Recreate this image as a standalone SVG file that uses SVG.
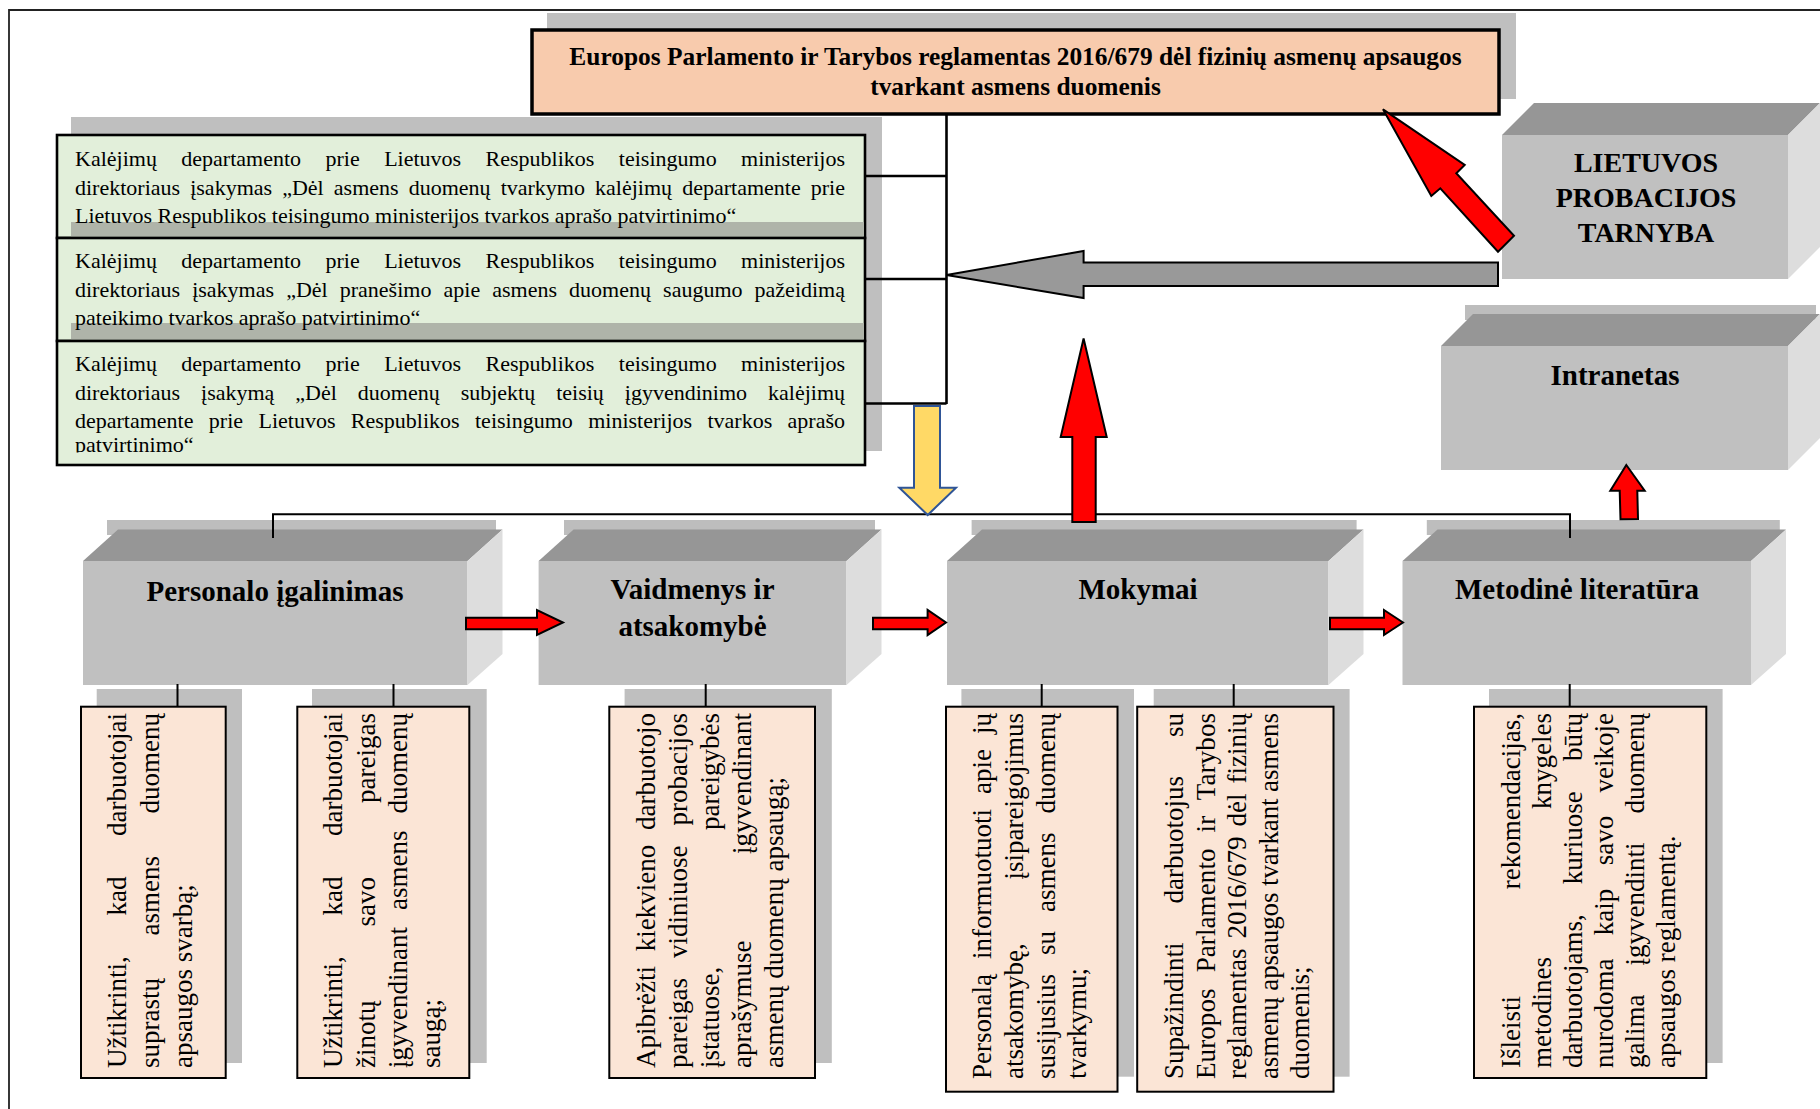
<svg xmlns="http://www.w3.org/2000/svg" width="1820" height="1109" viewBox="0 0 1820 1109">
<defs>
<style>
.bg{fill:#ffffff}
.frame{fill:none;stroke:#222;stroke-width:1.8}
.shadow{fill:#BFBFBF}
.peach{fill:#F8CBAD;stroke:#000;stroke-width:3.5}
.green{fill:#E2EFDA;stroke:#000;stroke-width:2.6}
.strip{fill:#AFB4A9}
.note{fill:#FBE5D6;stroke:#000;stroke-width:2}
.front{fill:#C0C0C0}
.top{fill:#969696}
.side{fill:#DDDDDD}
.sstrip{fill:#BDBDBD}
.h{font-family:"Liberation Serif","Times New Roman",serif;font-weight:bold;fill:#000;text-anchor:middle}
.gt{font-family:"Liberation Serif","Times New Roman",serif;font-size:22px;fill:#000}
.vt{font-family:"Liberation Serif","Times New Roman",serif;font-size:27px;fill:#000}
.ln{fill:none;stroke:#000;stroke-width:2}
.red{fill:#FF0000;stroke:#000;stroke-width:2;stroke-linejoin:miter}
.grayarrow{fill:#999999;stroke:#000;stroke-width:2}
.yellow{fill:#FFD966;stroke:#2F5597;stroke-width:2}
</style>
<clipPath id="clip3"><rect x="57" y="341" width="808" height="111.5"/></clipPath>
</defs>
<rect class="bg" x="0" y="0" width="1820" height="1109"/>
<path class="frame" d="M9,1109 V10 H1820"/>

<g id="regulation">
<rect class="shadow" x="547" y="13" width="969" height="86"/>
<rect class="peach" x="532" y="30" width="967" height="84"/>
<text class="h" x="1015.5" y="64.5" font-size="25.4">Europos Parlamento ir Tarybos reglamentas 2016/679 dėl fizinių asmenų apsaugos</text>
<text class="h" x="1015.5" y="95" font-size="25.4">tvarkant asmens duomenis</text>
</g>

<g id="orders">
<rect class="shadow" x="71" y="117" width="811" height="334"/>
<g id="order1">
<rect class="green" x="57" y="135" width="808" height="103"/>
<rect class="strip" x="71" y="222" width="793" height="14.5"/>
<text class="gt" x="75" y="166" textLength="770" lengthAdjust="spacing" style="word-spacing:18.9px">Kalėjimų departamento prie Lietuvos Respublikos teisingumo ministerijos</text>
<text class="gt" x="75" y="194.5" textLength="770" lengthAdjust="spacing" style="word-spacing:4.6px">direktoriaus įsakymas „Dėl asmens duomenų tvarkymo kalėjimų departamente prie</text>
<text class="gt" x="75" y="223">Lietuvos Respublikos teisingumo ministerijos tvarkos aprašo patvirtinimo“</text>
</g>
<g id="order2">
<rect class="green" x="57" y="238" width="808" height="103"/>
<rect class="strip" x="71" y="323" width="793" height="16.5"/>
<text class="gt" x="75" y="268" textLength="770" lengthAdjust="spacing" style="word-spacing:18.9px">Kalėjimų departamento prie Lietuvos Respublikos teisingumo ministerijos</text>
<text class="gt" x="75" y="296.5" textLength="770" lengthAdjust="spacing" style="word-spacing:6.6px">direktoriaus įsakymas „Dėl pranešimo apie asmens duomenų saugumo pažeidimą</text>
<text class="gt" x="75" y="325">pateikimo tvarkos aprašo patvirtinimo“</text>
</g>
<g id="order3">
<rect class="green" x="57" y="341" width="808" height="124"/>
<text class="gt" x="75" y="371" textLength="770" lengthAdjust="spacing" style="word-spacing:18.9px">Kalėjimų departamento prie Lietuvos Respublikos teisingumo ministerijos</text>
<text class="gt" x="75" y="399.5" textLength="770" lengthAdjust="spacing" style="word-spacing:15.5px">direktoriaus įsakymą „Dėl duomenų subjektų teisių įgyvendinimo kalėjimų</text>
<text class="gt" x="75" y="428" textLength="770" lengthAdjust="spacing" style="word-spacing:9.9px">departamente prie Lietuvos Respublikos teisingumo ministerijos tvarkos aprašo</text>
<text class="gt" x="75" y="452" clip-path="url(#clip3)">patvirtinimo“</text>
</g>
</g>

<g id="probation">
<polygon class="top" points="1502,135 1534,103 1820,103 1788,135"/>
<rect class="front" x="1502" y="135" width="286" height="144"/>
<polygon class="side" points="1788,135 1820,103 1820,247 1788,279"/>
<text class="h" x="1646" y="172" font-size="28">LIETUVOS</text>
<text class="h" x="1646" y="207" font-size="28">PROBACIJOS</text>
<text class="h" x="1646" y="242" font-size="28">TARNYBA</text>
</g>

<g id="intranet">
<rect class="sstrip" x="1465" y="305" width="351" height="15"/>
<polygon class="top" points="1441,346 1473,314 1820,314 1788,346"/>
<rect class="front" x="1441" y="346" width="347" height="124"/>
<polygon class="side" points="1788,346 1820,314 1820,438 1788,470"/>
<text class="h" x="1615" y="385" font-size="29">Intranetas</text>
</g>

<g id="empowerment">
<rect class="sstrip" x="107" y="520" width="389" height="15"/>
<polygon class="top" points="83,561 118,529.5 502.5,529.5 467.5,561"/>
<rect class="front" x="83" y="561" width="384.5" height="124"/>
<polygon class="side" points="467.5,561 502.5,529.5 502.5,654 467.5,685"/>
<text class="h" x="275" y="601" font-size="29">Personalo įgalinimas</text>
</g>

<g id="roles">
<rect class="sstrip" x="564" y="520" width="311" height="15"/>
<polygon class="top" points="538.6,561 573.6,529.5 881.5,529.5 846.5,561"/>
<rect class="front" x="538.6" y="561" width="307.9" height="124"/>
<polygon class="side" points="846.5,561 881.5,529.5 881.5,654 846.5,685"/>
<text class="h" x="692.5" y="599" font-size="29">Vaidmenys ir</text>
<text class="h" x="692.5" y="636" font-size="29">atsakomybė</text>
</g>

<g id="training">
<rect class="sstrip" x="971.6" y="520" width="385" height="15"/>
<polygon class="top" points="947,561 982,529.5 1363.5,529.5 1328.5,561"/>
<rect class="front" x="947" y="561" width="381.5" height="124"/>
<polygon class="side" points="1328.5,561 1363.5,529.5 1363.5,654 1328.5,685"/>
<text class="h" x="1138" y="599" font-size="29">Mokymai</text>
</g>

<g id="literature">
<rect class="sstrip" x="1426.8" y="520" width="353" height="15"/>
<polygon class="top" points="1402.5,561 1437.5,529.5 1786,529.5 1751,561"/>
<rect class="front" x="1402.5" y="561" width="348.5" height="124"/>
<polygon class="side" points="1751,561 1786,529.5 1786,654 1751,685"/>
<text class="h" x="1577" y="599" font-size="29">Metodinė literatūra</text>
</g>

<g id="task1">
<rect class="shadow" x="96.7" y="689" width="145.3" height="374"/>
<rect class="note" x="81" y="706.7" width="144.7" height="371.3"/>
<g transform="rotate(-90)">
<text class="vt" x="-1068" y="125.7" textLength="355" lengthAdjust="spacing" style="word-spacing:33.9px">Užtikrinti, kad darbuotojai</text>
<text class="vt" x="-1068" y="159" textLength="355" lengthAdjust="spacing" style="word-spacing:35.8px">suprastų asmens duomenų</text>
<text class="vt" x="-1068" y="192.3">apsaugos svarbą;</text>
</g>
</g>

<g id="task2">
<rect class="shadow" x="312" y="689" width="174.7" height="374"/>
<rect class="note" x="297.3" y="706.7" width="172" height="371.3"/>
<g transform="rotate(-90)">
<text class="vt" x="-1068" y="342" textLength="355" lengthAdjust="spacing" style="word-spacing:33.9px">Užtikrinti, kad darbuotojai</text>
<text class="vt" x="-1068" y="374.5" textLength="355" lengthAdjust="spacing" style="word-spacing:67.3px">žinotų savo pareigas</text>
<text class="vt" x="-1068" y="407" textLength="355" lengthAdjust="spacing" style="word-spacing:10.2px">įgyvendinant asmens duomenų</text>
<text class="vt" x="-1068" y="439.5">saugą;</text>
</g>
</g>

<g id="task3">
<rect class="shadow" x="624.6" y="689" width="207.2" height="374"/>
<rect class="note" x="609.3" y="706.7" width="205.7" height="371.3"/>
<g transform="rotate(-90)">
<text class="vt" x="-1068" y="655" textLength="355" lengthAdjust="spacing" style="word-spacing:8px">Apibrėžti kiekvieno darbuotojo</text>
<text class="vt" x="-1068" y="687" textLength="355" lengthAdjust="spacing" style="word-spacing:13.2px">pareigas vidiniuose probacijos</text>
<text class="vt" x="-1068" y="719" textLength="355" lengthAdjust="spacing" style="word-spacing:130px">įstatuose, pareigybės</text>
<text class="vt" x="-1068" y="751" textLength="355" lengthAdjust="spacing" style="word-spacing:79.7px">aprašymuse įgyvendinant</text>
<text class="vt" x="-1068" y="783">asmenų duomenų apsaugą;</text>
</g>
</g>

<g id="task4">
<rect class="shadow" x="961.4" y="689" width="172.6" height="387.7"/>
<rect class="note" x="946" y="706.7" width="171.5" height="385"/>
<g transform="rotate(-90)">
<text class="vt" x="-1079" y="990.6" textLength="366" lengthAdjust="spacing" style="word-spacing:8.2px">Personalą informuotuoti apie jų</text>
<text class="vt" x="-1079" y="1022.7" textLength="366" lengthAdjust="spacing" style="word-spacing:57px">atsakomybę, įsipareigojimus</text>
<text class="vt" x="-1079" y="1054.5" textLength="366" lengthAdjust="spacing" style="word-spacing:12.2px">susijusius su asmens duomenų</text>
<text class="vt" x="-1079" y="1086">tvarkymu;</text>
</g>
</g>

<g id="task5">
<rect class="shadow" x="1153.7" y="689" width="195.9" height="387.7"/>
<rect class="note" x="1137.2" y="706.7" width="196.3" height="385"/>
<g transform="rotate(-90)">
<text class="vt" x="-1079" y="1183" textLength="366" lengthAdjust="spacing" style="word-spacing:32.2px">Supažindinti darbuotojus su</text>
<text class="vt" x="-1079" y="1214.6" textLength="366" lengthAdjust="spacing" style="word-spacing:9.2px">Europos Parlamento ir Tarybos</text>
<text class="vt" x="-1079" y="1246.2" textLength="366" lengthAdjust="spacing" style="word-spacing:3.2px">reglamentas 2016/679 dėl fizinių</text>
<text class="vt" x="-1079" y="1277.8" textLength="366" lengthAdjust="spacing">asmenų apsaugos tvarkant asmens</text>
<text class="vt" x="-1079" y="1309.4">duomenis;</text>
</g>
</g>

<g id="task6">
<rect class="shadow" x="1489" y="689" width="233.6" height="374"/>
<rect class="note" x="1474" y="706.7" width="232.3" height="371.3"/>
<g transform="rotate(-90)">
<text class="vt" x="-1068" y="1520" textLength="355" lengthAdjust="spacing" style="word-spacing:100px">Išleisti rekomendacijas,</text>
<text class="vt" x="-1068" y="1551" textLength="355" lengthAdjust="spacing" style="word-spacing:141px">metodines knygeles</text>
<text class="vt" x="-1068" y="1582" textLength="355" lengthAdjust="spacing" style="word-spacing:23.4px">darbuotojams, kuriuose būtų</text>
<text class="vt" x="-1068" y="1613" textLength="355" lengthAdjust="spacing" style="word-spacing:16.6px">nurodoma kaip savo veikoje</text>
<text class="vt" x="-1068" y="1644" textLength="355" lengthAdjust="spacing" style="word-spacing:22px">galima įgyvendinti duomenų</text>
<text class="vt" x="-1068" y="1675">apsaugos reglamentą.</text>
</g>
</g>

<g id="connectors">
<path class="ln" style="stroke-width:2.6" d="M946.5,114 V404"/>
<path class="ln" style="stroke-width:2.6" d="M865,176 H946.5 M865,279 H946.5 M865,403.5 H946.5"/>
<path class="ln" d="M273,538 V514.3 H1570 V538"/>
<path class="ln" d="M177.5,684 V707 M393.5,684 V707 M705.7,684 V707 M1041.7,684 V707 M1233.7,684 V707 M1569.7,684 V707"/>
<polygon class="yellow" points="914,406 940,406 940,487.7 956,487.7 927.7,515 899.3,487.7 914,487.7"/>
<polygon class="grayarrow" points="1498,262.5 1083.6,262.5 1083.6,251 946.5,275 1083.6,298 1083.6,286 1498,286"/>
<polygon class="red" points="1383,109.3 1464.7,165 1456.3,173.3 1514,235.7 1498,251.7 1440.3,188.3 1431.3,196"/>
<polygon class="red" points="1072.3,522 1072.3,437 1060.7,437 1083.6,338.5 1106.7,437 1095.7,437 1095.7,522"/>
<polygon class="red" points="1620.5,519.3 1619.7,490.7 1610.3,490.7 1626.3,465 1644.7,490.7 1637.3,490.7 1638,519"/>
<polygon class="red" points="466,617.7 537,617.7 537,610 563,622.5 537,635 537,629.3 466,629.3"/>
<polygon class="red" points="873,617.7 927.6,617.7 927.6,610 946,622.5 927.6,635 927.6,629.3 873,629.3"/>
<polygon class="red" points="1330,617.7 1384,617.7 1384,610 1403,622.5 1384,635 1384,629.3 1330,629.3"/>
</g>
</svg>
